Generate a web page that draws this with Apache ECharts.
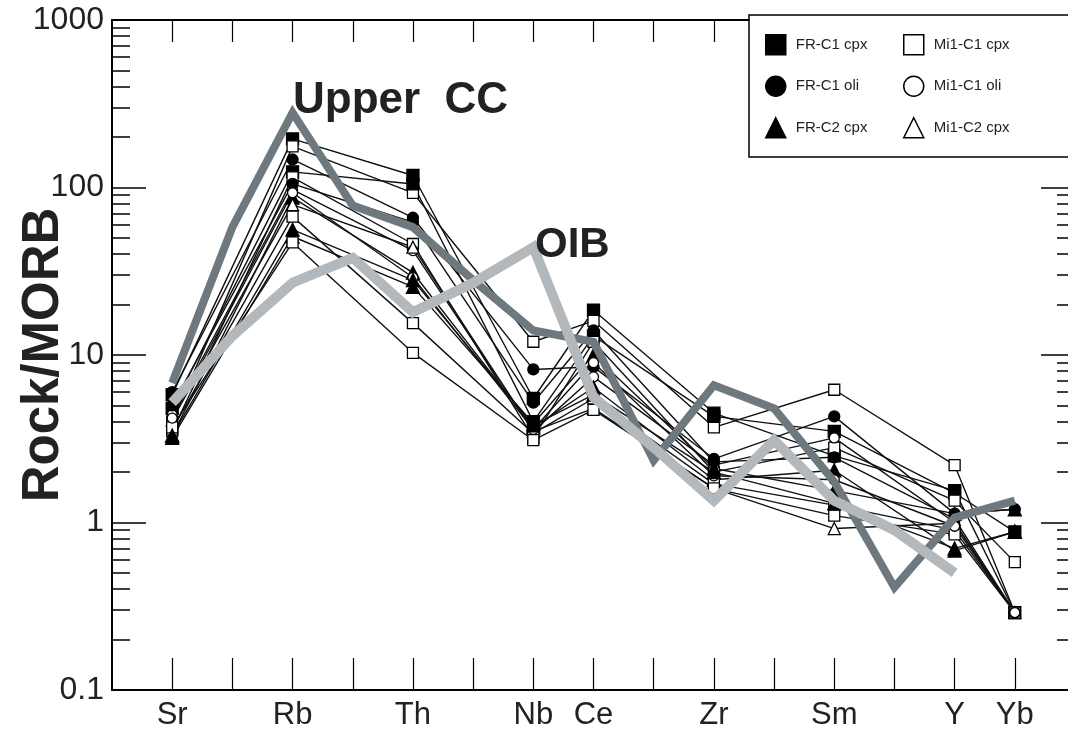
<!DOCTYPE html>
<html><head><meta charset="utf-8">
<script src="https://cdn.jsdelivr.net/npm/echarts@6/dist/echarts.min.js"></script>
<style>html,body{margin:0;padding:0;background:#fff}#c{width:1068px;height:731px}</style>
</head><body><div id="c"></div>
<script>
// element order (MORB-normalised spider diagram)
const elements = ['Sr','K','Rb','Ba','Th','Ta','Nb','Ce','P','Zr','Hf','Sm','Ti','Y','Yb'];
const tickLabels = ['Sr','','Rb','','Th','','Nb','Ce','','Zr','','Sm','','Y','Yb'];
const yTickLabels = [0.1, 1, 10, 100, 1000];

// reference patterns
const upperCC = [6.8, 58, 280, 78, 58, 28, 14, 12, 2.35, 6.6, 4.8, 1.75, 0.41, 1.07, 1.35];
const oib     = [5.2, 13, 27, 38, 18, 27, 44, 5.6, 2.8, 1.35, 3.1, 1.35, 0.9, 0.5, null];

// samples (null = not analysed)
const _ = null;
const s1  = [5.8,_,195,_,118,_,5.5,18.5,_,4.5,_,2.5,_,1.55,0.29];
const s2  = [4.0,_,176,_,93,_,12,16,_,3.7,_,6.2,_,2.2,0.29];
const s3  = [6.0,_,147,_,66,_,8.2,8.5,_,2.4,_,4.3,_,1.13,1.2];
const s4  = [4.8,_,124,_,105,_,4.0,13,_,4.3,_,3.5,_,1.5,0.88];
const s5  = [3.5,_,115,_,46,_,3.2,12,_,2.0,_,2.8,_,1.35,0.58];
const s6  = [4.4,_,97,_,42,_,3.5,7.4,_,2.2,_,3.2,_,1.0,0.29];
const s7  = [3.3,_,87,_,31,_,3.7,6.4,_,1.8,_,2.05,_,0.68,0.88];
const s8  = [4.1,_,79,_,44,_,3.5,4.8,_,1.6,_,0.92,_,0.99,0.29];
const s9  = [3.2,_,51,_,25.5,_,3.9,10,_,2.1,_,1.55,_,1.13,1.2];
const s10 = [3.6,_,67,_,15.5,_,3.4,5.5,_,1.7,_,1.27,_,0.9,0.29];
const s11 = [3.7,_,47,_,10.3,_,3.1,4.7,_,1.6,_,1.1,_,0.85,0.29];
const s12 = [5.0,_,105,_,62,_,5.2,14,_,2.3,_,2.45,_,1.05,0.29];
const s13 = [4.2,_,93,_,29,_,3.6,9,_,1.9,_,1.8,_,0.95,0.29];
const s14 = [3.3,_,56,_,28,_,3.8,5.8,_,2.0,_,1.3,_,0.7,0.88];

const samples = [
  ['FR-C1 cpx', s1], ['Mi1-C1 cpx', s2], ['FR-C1 oli', s3], ['FR-C1 cpx', s4],
  ['Mi1-C1 cpx', s5], ['Mi1-C1 oli', s6], ['FR-C2 cpx', s7], ['Mi1-C2 cpx', s8],
  ['FR-C2 cpx', s9], ['Mi1-C1 cpx', s10], ['Mi1-C1 cpx', s11], ['FR-C1 oli', s12],
  ['Mi1-C1 oli', s13], ['FR-C2 cpx', s14]
];

const groupStyle = {
  'FR-C1 cpx':  {symbol:'rect', size:12, fill:'#000'},
  'FR-C1 oli':  {symbol:'circle', size:11, fill:'#000'},
  'FR-C2 cpx':  {symbol:'triangle', size:13, fill:'#000'},
  'Mi1-C1 cpx': {symbol:'rect', size:11, fill:'#fff'},
  'Mi1-C1 oli': {symbol:'circle', size:10, fill:'#fff'},
  'Mi1-C2 cpx': {symbol:'triangle', size:12, fill:'#fff'}
};

const toPairs = arr => arr.map((v, i) => v == null ? null : [i, v]).filter(p => p);

const FONT = '"Liberation Sans", Arial, Helvetica, sans-serif';

const series = samples.map(([name, arr]) => {
  const g = groupStyle[name];
  return {
    name, type: 'line', data: toPairs(arr), z: 3,
    symbol: g.symbol, symbolSize: g.size,
    itemStyle: {color: g.fill, borderColor: '#000', borderWidth: 1.3},
    lineStyle: {color: '#111', width: 1.4},
    emphasis: {disabled: true}
  };
});
series.push({
  name: 'Upper CC', type: 'line', data: toPairs(upperCC), z: 5, symbol: 'none',
  lineStyle: {color: '#6e787f', width: 8, join: 'miter'}, emphasis: {disabled: true}
});
series.push({
  name: 'OIB', type: 'line', data: toPairs(oib), z: 6, symbol: 'none',
  lineStyle: {color: '#b3b8bc', width: 10, join: 'miter'}, emphasis: {disabled: true}
});

const xTickVals = elements.map((e, i) => i);
const minorVals = [];
for (let d = -1; d <= 2; d++) for (let k = 2; k <= 9; k++) minorVals.push(+(k * Math.pow(10, d)).toPrecision(3));

const axisLine = {show: true, onZero: false, lineStyle: {color: '#000', width: 2}};
const noLine = {show: false, onZero: false};
const yBase = {type: 'log', logBase: 10, min: 0.1, max: 1000, splitLine: {show: false}};

const legendItem = (name, icon, fill) => ({name, icon, itemStyle: {color: fill, borderColor: '#000', borderWidth: 1.5}});
const legendBase = {
  orient: 'vertical', top: 29, itemWidth: 20, itemHeight: 20, itemGap: 20, z: 20,
  selectedMode: false,
  textStyle: {fontSize: 15, color: '#222', fontFamily: FONT, padding: [0, 0, 0, 5]}
};

const option = {
  animation: false,
  backgroundColor: '#fff',
  grid: {left: 112, top: 20, width: 963, height: 670, outerBoundsMode: 'none'},
  xAxis: [
    {type: 'value', min: -1, max: 15, position: 'bottom', axisLine,
     axisTick: {inside: true, length: 32, customValues: xTickVals, lineStyle: {color: '#000', width: 1.2}},
     axisLabel: {customValues: xTickVals, formatter: v => tickLabels[v] || '', fontSize: 31, color: '#222', fontFamily: FONT, margin: 10},
     splitLine: {show: false}},
    {type: 'value', min: -1, max: 15, position: 'top', axisLine,
     axisTick: {inside: true, length: 22, customValues: xTickVals, lineStyle: {color: '#000', width: 1.2}},
     axisLabel: {show: false}, splitLine: {show: false}}
  ],
  yAxis: [
    Object.assign({}, yBase, {position: 'left', axisLine,
      axisTick: {inside: true, length: 34, customValues: yTickLabels, lineStyle: {color: '#000', width: 1.5}},
      axisLabel: {customValues: yTickLabels, formatter: v => String(+(+v).toPrecision(3)), fontSize: 32, color: '#222', fontFamily: FONT, margin: 8},
      name: 'Rock/MORB', nameLocation: 'middle', nameGap: 43, nameMoveOverlap: false,
      nameTextStyle: {fontSize: 51, fontWeight: 'bold', color: '#222', fontFamily: FONT}}),
    Object.assign({}, yBase, {position: 'left', axisLine: noLine,
      axisTick: {inside: true, length: 18, customValues: minorVals, lineStyle: {color: '#000', width: 1.5}},
      axisLabel: {show: false}}),
    Object.assign({}, yBase, {position: 'right', axisLine,
      axisTick: {inside: true, length: 34, customValues: yTickLabels, lineStyle: {color: '#000', width: 1.5}},
      axisLabel: {show: false}}),
    Object.assign({}, yBase, {position: 'right', axisLine: noLine,
      axisTick: {inside: true, length: 18, customValues: minorVals, lineStyle: {color: '#000', width: 1.5}},
      axisLabel: {show: false}})
  ],
  legend: [
    Object.assign({}, legendBase, {left: 760, data: [
      legendItem('FR-C1 cpx', 'rect', '#000'),
      legendItem('FR-C1 oli', 'circle', '#000'),
      legendItem('FR-C2 cpx', 'triangle', '#000')]}),
    Object.assign({}, legendBase, {left: 898, data: [
      legendItem('Mi1-C1 cpx', 'rect', '#fff'),
      legendItem('Mi1-C1 oli', 'circle', '#fff'),
      legendItem('Mi1-C2 cpx', 'triangle', '#fff')]})
  ],
  graphic: [
    {type: 'rect', z: 10, shape: {x: 749, y: 15, width: 330, height: 142},
     style: {fill: '#fff', stroke: '#000', lineWidth: 1.5}},
    {type: 'text', z: 10, x: 293, y: 101,
     style: {text: 'Upper  CC', fontSize: 44, fontWeight: 'bold', fontFamily: FONT, fill: '#222', verticalAlign: 'middle'}},
    {type: 'text', z: 10, x: 535, y: 245,
     style: {text: 'OIB', fontSize: 42, fontWeight: 'bold', fontFamily: FONT, fill: '#222', verticalAlign: 'middle'}}
  ],
  series
};

echarts.init(document.getElementById('c'), null, {renderer: 'canvas'}).setOption(option);
</script></body></html>
